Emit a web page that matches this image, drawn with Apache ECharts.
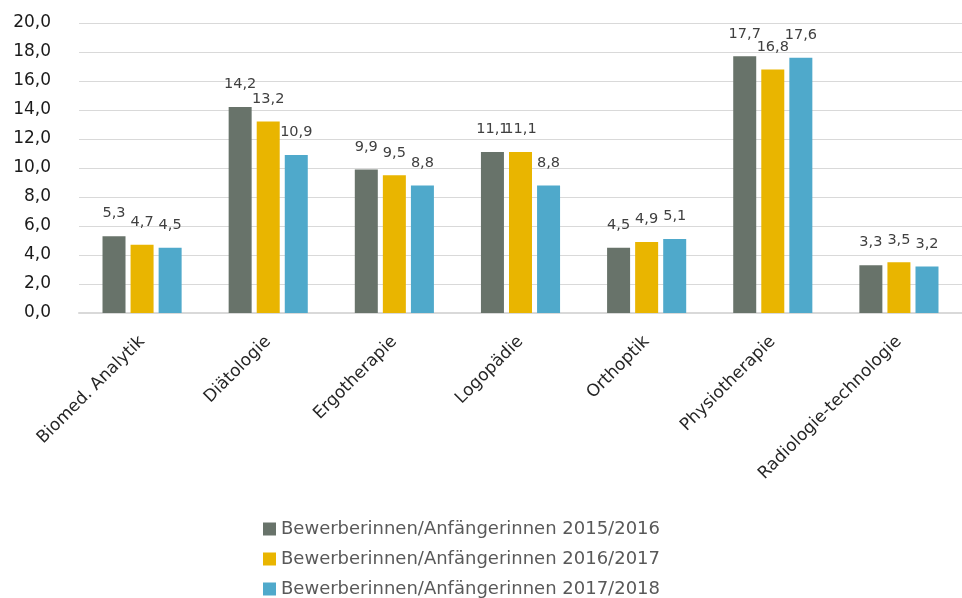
<!DOCTYPE html>
<html><head><meta charset="utf-8">
<script src="https://cdn.jsdelivr.net/npm/echarts@6/dist/echarts.min.js"></script>
<style>html,body{margin:0;padding:0;background:#fff}#c{width:962px;height:598px}</style>
</head><body><div id="c"></div>
<script>
const categories = ["Biomed. Analytik","Diätologie","Ergotherapie","Logopädie","Orthoptik","Physiotherapie","Radiologie-technologie"];
const seriesNames = ["Bewerberinnen/Anfängerinnen 2015/2016","Bewerberinnen/Anfängerinnen 2016/2017","Bewerberinnen/Anfängerinnen 2017/2018"];
const values2015 = [5.3,14.2,9.9,11.1,4.5,17.7,3.3];
const values2016 = [4.7,13.2,9.5,11.1,4.9,16.8,3.5];
const values2017 = [4.5,10.9,8.8,8.8,5.1,17.6,3.2];
const colors = ["#68736a","#e9b500","#4fa9cb"];
const fmt = v => v.toFixed(1).replace('.', ',');
const FONT = "DejaVu Sans";
const chart = echarts.init(document.getElementById('c'));
const mk = (name, data, color) => ({
  name, type: 'bar', data, barWidth: 23, barGap: '22%',
  itemStyle: {color},
  label: {show: true, position: 'top', distance: 15, formatter: p => fmt(p.value),
    fontFamily: FONT, fontSize: 14.5, color: '#404040'}
});
const legends = seriesNames.map((n, i) => ({
  orient: 'vertical', left: 258, top: 515 + i * 30, itemWidth: 13, itemHeight: 13,
  icon: 'rect', textStyle: {fontFamily: FONT, fontSize: 18, color: '#595959'},
  data: [n]
}));
chart.setOption({
  animation: false,
  textStyle: {fontFamily: FONT},
  grid: {left: 79, top: 23, width: 895, height: 290, containLabel: false},
  xAxis: {type: 'category', data: categories,
    axisLine: {lineStyle: {color: '#d9d9d9', width: 2}},
    axisTick: {show: false},
    axisLabel: {rotate: 45, interval: 0, fontFamily: FONT, fontSize: 17, color: '#262626', margin: 26}
  },
  yAxis: {type: 'value', min: 0, max: 20, interval: 2,
    axisLine: {show: false}, axisTick: {show: false},
    splitLine: {lineStyle: {color: '#d9d9d9', width: 1.2}},
    axisLabel: {formatter: v => fmt(v), fontFamily: FONT, fontSize: 17, color: '#1a1a1a', margin: 28}
  },
  legend: legends,
  series: [mk(seriesNames[0], values2015, colors[0]), mk(seriesNames[1], values2016, colors[1]), mk(seriesNames[2], values2017, colors[2])]
});
</script></body></html>
